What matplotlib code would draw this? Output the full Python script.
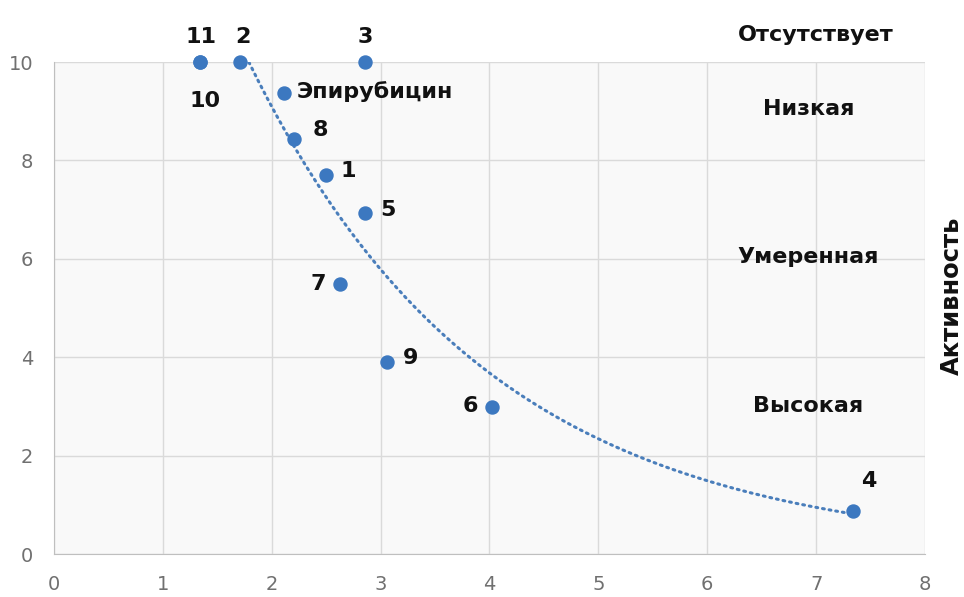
import matplotlib.pyplot as plt
import numpy as np

plt.rcParams['font.family'] = ['DejaVu Sans']

# Препараты: номер/название, x, y
names = ['11', '10', '2', '3', 'Эпирубицин', '8', '1', '5', '7', '9', '6', '4']
x_vals = [1.34, 1.34, 1.71, 2.86, 2.11, 2.20, 2.50, 2.86, 2.63, 3.06, 4.02, 7.34]
y_vals = [10.0, 10.0, 10.0, 10.0, 9.37, 8.43, 7.70, 6.93, 5.49, 3.90, 2.99, 0.87]

# сдвиги подписей (в пунктах) и выравнивание
offsets = {
    '11': (1, 18, 'center'), '10': (4, -28, 'center'), '2': (2, 18, 'center'),
    '3': (0, 18, 'center'), 'Эпирубицин': (9, 1, 'left'), '8': (19, 7, 'center'),
    '1': (16, 3, 'center'), '5': (16, 2, 'center'), '7': (-16, 0, 'center'),
    '9': (17, 3, 'center'), '6': (-15, 1, 'center'), '4': (11, 22, 'center'),
}

# уровни активности справа
levels = ['Отсутствует', 'Низкая', 'Умеренная', 'Высокая']
level_x = [7.0, 6.93, 6.93, 6.93]
level_y = [10.55, 9.04, 6.04, 3.0]

point_color = '#3c78c0'

fig = plt.figure(figsize=(9.64, 5.97), dpi=100)
ax = fig.add_axes([0.056, 0.072, 0.9035, 0.824])
ax.set_facecolor('#f9f9f9')

# экспоненциальный тренд по всем точкам, кроме 11 и 10
tx = np.array(x_vals[2:])
ty = np.array(y_vals[2:])
b, a = np.polyfit(tx, np.log(ty), 1)
xs = np.linspace(tx.min(), tx.max(), 200)
ax.plot(xs, np.exp(a + b * xs), linestyle=(0, (0.6, 1.6)), color='#4a7ebb',
        lw=2.2, dash_capstyle='round', zorder=2)

ax.scatter(x_vals, y_vals, s=88, color=point_color, zorder=3, clip_on=False)

for n, x, y in zip(names, x_vals, y_vals):
    dx, dy, ha = offsets[n]
    ax.annotate(n, (x, y), xytext=(dx, dy), textcoords='offset points',
                ha=ha, va='center', fontsize=16, fontweight='bold', color='#111111')

for lab, lx, ly in zip(levels, level_x, level_y):
    ax.text(lx, ly, lab, ha='center', va='center', fontsize=16,
            fontweight='bold', color='#111111')

ax.set_xlim(0, 8)
ax.set_ylim(0, 10)
ax.set_xticks(range(0, 9))
ax.set_yticks(range(0, 11, 2))
ax.grid(True, color='#dadada', lw=1)
ax.set_axisbelow(True)
for s in ['top', 'right']:
    ax.spines[s].set_visible(False)
for s in ['left', 'bottom']:
    ax.spines[s].set_color('#bfbfbf')
ax.tick_params(length=0, labelsize=14, labelcolor='#707070', pad=15)

fig.text(0.987, 0.505, 'Активность', rotation=90, ha='center', va='center',
         fontsize=17.5, fontweight='bold', color='#111111')

fig.savefig('out.png', dpi=100)
